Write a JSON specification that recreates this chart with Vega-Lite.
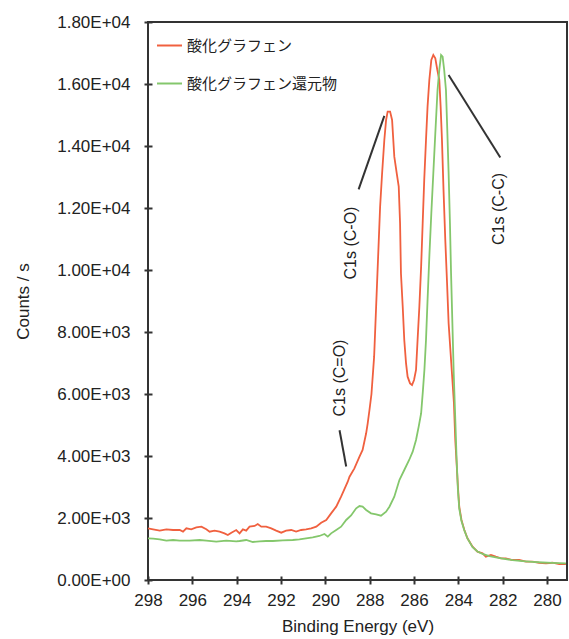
{
  "$schema": "https://vega.github.io/schema/vega-lite/v6.json",
  "width": 419,
  "height": 558,
  "autosize": {"type": "none"},
  "padding": {"left": 148, "top": 22, "right": 2, "bottom": 59},
  "background": "white",
  "config": {
    "view": {"stroke": "#333333", "strokeWidth": 2},
    "font": "Liberation Sans",
    "axis": {
      "domain": false, "offset": -4,
      "tickColor": "#333333", "tickWidth": 2, "tickSize": 8,
      "labelFont": "Liberation Sans", "labelFontSize": 17, "labelColor": "#222222",
      "titleFont": "Liberation Sans", "titleFontSize": 17, "titleFontWeight": "normal", "titleColor": "#222222",
      "grid": false
    }
  },
  "datasets": {
    "spectra": [
      {"be": 298.0, "counts": 1667, "series": "酸化グラフェン"},
      {"be": 297.77, "counts": 1635, "series": "酸化グラフェン"},
      {"be": 297.47, "counts": 1592, "series": "酸化グラフェン"},
      {"be": 297.17, "counts": 1635, "series": "酸化グラフェン"},
      {"be": 296.87, "counts": 1613, "series": "酸化グラフェン"},
      {"be": 296.57, "counts": 1613, "series": "酸化グラフェン"},
      {"be": 296.42, "counts": 1559, "series": "酸化グラフェン"},
      {"be": 296.27, "counts": 1667, "series": "酸化グラフェン"},
      {"be": 296.05, "counts": 1635, "series": "酸化グラフェン"},
      {"be": 295.82, "counts": 1700, "series": "酸化グラフェン"},
      {"be": 295.59, "counts": 1720, "series": "酸化グラフェン"},
      {"be": 295.37, "counts": 1635, "series": "酸化グラフェン"},
      {"be": 295.22, "counts": 1559, "series": "酸化グラフェン"},
      {"be": 295.0, "counts": 1592, "series": "酸化グラフェン"},
      {"be": 294.77, "counts": 1559, "series": "酸化グラフェン"},
      {"be": 294.55, "counts": 1505, "series": "酸化グラフェン"},
      {"be": 294.4, "counts": 1452, "series": "酸化グラフェン"},
      {"be": 294.24, "counts": 1527, "series": "酸化グラフェン"},
      {"be": 294.02, "counts": 1613, "series": "酸化グラフェン"},
      {"be": 293.87, "counts": 1505, "series": "酸化グラフェン"},
      {"be": 293.72, "counts": 1635, "series": "酸化グラフェン"},
      {"be": 293.57, "counts": 1592, "series": "酸化グラフェン"},
      {"be": 293.42, "counts": 1720, "series": "酸化グラフェン"},
      {"be": 293.19, "counts": 1742, "series": "酸化グラフェン"},
      {"be": 293.05, "counts": 1806, "series": "酸化グラフェン"},
      {"be": 292.89, "counts": 1720, "series": "酸化グラフェン"},
      {"be": 292.67, "counts": 1720, "series": "酸化グラフェン"},
      {"be": 292.44, "counts": 1667, "series": "酸化グラフェン"},
      {"be": 292.22, "counts": 1592, "series": "酸化グラフェン"},
      {"be": 291.99, "counts": 1527, "series": "酸化グラフェン"},
      {"be": 291.77, "counts": 1592, "series": "酸化グラフェン"},
      {"be": 291.54, "counts": 1613, "series": "酸化グラフェン"},
      {"be": 291.32, "counts": 1559, "series": "酸化グラフェン"},
      {"be": 291.09, "counts": 1613, "series": "酸化グラフェン"},
      {"be": 290.87, "counts": 1635, "series": "酸化グラフェン"},
      {"be": 290.64, "counts": 1667, "series": "酸化グラフェン"},
      {"be": 290.41, "counts": 1720, "series": "酸化グラフェン"},
      {"be": 290.19, "counts": 1849, "series": "酸化グラフェン"},
      {"be": 289.96, "counts": 1936, "series": "酸化グラフェン"},
      {"be": 289.74, "counts": 2150, "series": "酸化グラフェン"},
      {"be": 289.51, "counts": 2366, "series": "酸化グラフェン"},
      {"be": 289.29, "counts": 2689, "series": "酸化グラフェン"},
      {"be": 288.99, "counts": 3171, "series": "酸化グラフェン"},
      {"be": 288.91, "counts": 3333, "series": "酸化グラフェン"},
      {"be": 288.69, "counts": 3602, "series": "酸化グラフェン"},
      {"be": 288.46, "counts": 3978, "series": "酸化グラフェン"},
      {"be": 288.32, "counts": 4194, "series": "酸化グラフェン"},
      {"be": 288.16, "counts": 4732, "series": "酸化グラフェン"},
      {"be": 288.09, "counts": 5055, "series": "酸化グラフェン"},
      {"be": 288.01, "counts": 5484, "series": "酸化グラフェン"},
      {"be": 287.92, "counts": 6000, "series": "酸化グラフェン"},
      {"be": 287.8, "counts": 7204, "series": "酸化グラフェン"},
      {"be": 287.71, "counts": 8817, "series": "酸化グラフェン"},
      {"be": 287.62, "counts": 10430, "series": "酸化グラフェン"},
      {"be": 287.53, "counts": 12043, "series": "酸化グラフェン"},
      {"be": 287.44, "counts": 13120, "series": "酸化グラフェン"},
      {"be": 287.34, "counts": 14194, "series": "酸化グラフェン"},
      {"be": 287.26, "counts": 14840, "series": "酸化グラフェン"},
      {"be": 287.19, "counts": 15108, "series": "酸化グラフェン"},
      {"be": 287.08, "counts": 15108, "series": "酸化グラフェン"},
      {"be": 286.99, "counts": 14840, "series": "酸化グラフェン"},
      {"be": 286.89, "counts": 13656, "series": "酸化グラフェン"},
      {"be": 286.78, "counts": 13120, "series": "酸化グラフェン"},
      {"be": 286.69, "counts": 12688, "series": "酸化グラフェン"},
      {"be": 286.63, "counts": 11507, "series": "酸化グラフェン"},
      {"be": 286.59, "counts": 9895, "series": "酸化グラフェン"},
      {"be": 286.51, "counts": 8817, "series": "酸化グラフェン"},
      {"be": 286.44, "counts": 7743, "series": "酸化グラフェン"},
      {"be": 286.36, "counts": 6990, "series": "酸化グラフェン"},
      {"be": 286.29, "counts": 6559, "series": "酸化グラフェン"},
      {"be": 286.18, "counts": 6344, "series": "酸化グラフェン"},
      {"be": 286.09, "counts": 6291, "series": "酸化グラフェン"},
      {"be": 286.0, "counts": 6452, "series": "酸化グラフェン"},
      {"be": 285.91, "counts": 6775, "series": "酸化グラフェン"},
      {"be": 285.84, "counts": 7743, "series": "酸化グラフェン"},
      {"be": 285.76, "counts": 8817, "series": "酸化グラフェン"},
      {"be": 285.68, "counts": 10108, "series": "酸化グラフェン"},
      {"be": 285.61, "counts": 11507, "series": "酸化グラフェン"},
      {"be": 285.54, "counts": 12904, "series": "酸化グラフェン"},
      {"be": 285.46, "counts": 14194, "series": "酸化グラフェン"},
      {"be": 285.39, "counts": 15269, "series": "酸化グラフェン"},
      {"be": 285.31, "counts": 16130, "series": "酸化グラフェン"},
      {"be": 285.22, "counts": 16775, "series": "酸化グラフェン"},
      {"be": 285.13, "counts": 16937, "series": "酸化グラフェン"},
      {"be": 285.04, "counts": 16830, "series": "酸化グラフェン"},
      {"be": 284.95, "counts": 16453, "series": "酸化グラフェン"},
      {"be": 284.86, "counts": 16130, "series": "酸化グラフェン"},
      {"be": 284.8, "counts": 15269, "series": "酸化グラフェン"},
      {"be": 284.74, "counts": 14194, "series": "酸化グラフェン"},
      {"be": 284.67, "counts": 12581, "series": "酸化グラフェン"},
      {"be": 284.59, "counts": 10968, "series": "酸化グラフェン"},
      {"be": 284.51, "counts": 9571, "series": "酸化グラフェン"},
      {"be": 284.44, "counts": 8281, "series": "酸化グラフェン"},
      {"be": 284.32, "counts": 6990, "series": "酸化グラフェン"},
      {"be": 284.2, "counts": 5700, "series": "酸化グラフェン"},
      {"be": 284.14, "counts": 4516, "series": "酸化グラフェン"},
      {"be": 284.08, "counts": 3765, "series": "酸化グラフェン"},
      {"be": 284.02, "counts": 3010, "series": "酸化グラフェン"},
      {"be": 283.96, "counts": 2365, "series": "酸化グラフェン"},
      {"be": 283.86, "counts": 1936, "series": "酸化グラフェン"},
      {"be": 283.73, "counts": 1613, "series": "酸化グラフェン"},
      {"be": 283.59, "counts": 1345, "series": "酸化グラフェン"},
      {"be": 283.36, "counts": 1074, "series": "酸化グラフェン"},
      {"be": 283.14, "counts": 913, "series": "酸化グラフェン"},
      {"be": 282.91, "counts": 861, "series": "酸化グラフェン"},
      {"be": 282.76, "counts": 752, "series": "酸化グラフェン"},
      {"be": 282.53, "counts": 807, "series": "酸化グラフェン"},
      {"be": 282.31, "counts": 752, "series": "酸化グラフェン"},
      {"be": 282.08, "counts": 700, "series": "酸化グラフェン"},
      {"be": 281.86, "counts": 700, "series": "酸化グラフェン"},
      {"be": 281.56, "counts": 645, "series": "酸化グラフェン"},
      {"be": 281.26, "counts": 645, "series": "酸化グラフェン"},
      {"be": 280.95, "counts": 590, "series": "酸化グラフェン"},
      {"be": 280.66, "counts": 590, "series": "酸化グラフェン"},
      {"be": 280.36, "counts": 557, "series": "酸化グラフェン"},
      {"be": 280.05, "counts": 538, "series": "酸化グラフェン"},
      {"be": 279.76, "counts": 557, "series": "酸化グラフェン"},
      {"be": 279.45, "counts": 516, "series": "酸化グラフェン"},
      {"be": 279.15, "counts": 516, "series": "酸化グラフェン"},

      {"be": 298.0, "counts": 1345, "series": "酸化グラフェン還元物"},
      {"be": 297.77, "counts": 1333, "series": "酸化グラフェン還元物"},
      {"be": 297.47, "counts": 1312, "series": "酸化グラフェン還元物"},
      {"be": 297.17, "counts": 1269, "series": "酸化グラフェン還元物"},
      {"be": 296.87, "counts": 1290, "series": "酸化グラフェン還元物"},
      {"be": 296.57, "counts": 1269, "series": "酸化グラフェン還元物"},
      {"be": 296.12, "counts": 1269, "series": "酸化グラフェン還元物"},
      {"be": 295.67, "counts": 1290, "series": "酸化グラフェン還元物"},
      {"be": 295.37, "counts": 1269, "series": "酸化グラフェン還元物"},
      {"be": 294.92, "counts": 1237, "series": "酸化グラフェン還元物"},
      {"be": 294.47, "counts": 1269, "series": "酸化グラフェン還元物"},
      {"be": 294.02, "counts": 1247, "series": "酸化グラフェン還元物"},
      {"be": 293.87, "counts": 1258, "series": "酸化グラフェン還元物"},
      {"be": 293.57, "counts": 1290, "series": "酸化グラフェン還元物"},
      {"be": 293.27, "counts": 1226, "series": "酸化グラフェン還元物"},
      {"be": 292.97, "counts": 1247, "series": "酸化グラフェン還元物"},
      {"be": 292.67, "counts": 1258, "series": "酸化グラフェン還元物"},
      {"be": 292.37, "counts": 1258, "series": "酸化グラフェン還元物"},
      {"be": 291.92, "counts": 1280, "series": "酸化グラフェン還元物"},
      {"be": 291.47, "counts": 1290, "series": "酸化グラフェン還元物"},
      {"be": 291.17, "counts": 1312, "series": "酸化グラフェン還元物"},
      {"be": 290.87, "counts": 1345, "series": "酸化グラフェン還元物"},
      {"be": 290.57, "counts": 1377, "series": "酸化グラフェン還元物"},
      {"be": 290.27, "counts": 1420, "series": "酸化グラフェン還元物"},
      {"be": 290.04, "counts": 1484, "series": "酸化グラフェン還元物"},
      {"be": 289.89, "counts": 1398, "series": "酸化グラフェン還元物"},
      {"be": 289.74, "counts": 1505, "series": "酸化グラフェン還元物"},
      {"be": 289.51, "counts": 1613, "series": "酸化グラフェン還元物"},
      {"be": 289.29, "counts": 1720, "series": "酸化グラフェン還元物"},
      {"be": 289.06, "counts": 1936, "series": "酸化グラフェン還元物"},
      {"be": 288.84, "counts": 2080, "series": "酸化グラフェン還元物"},
      {"be": 288.61, "counts": 2312, "series": "酸化グラフェン還元物"},
      {"be": 288.46, "counts": 2387, "series": "酸化グラフェン還元物"},
      {"be": 288.32, "counts": 2365, "series": "酸化グラフェン還元物"},
      {"be": 288.16, "counts": 2258, "series": "酸化グラフェン還元物"},
      {"be": 287.94, "counts": 2150, "series": "酸化グラフェン還元物"},
      {"be": 287.71, "counts": 2118, "series": "酸化グラフェン還元物"},
      {"be": 287.49, "counts": 2075, "series": "酸化グラフェン還元物"},
      {"be": 287.26, "counts": 2204, "series": "酸化グラフェン還元物"},
      {"be": 287.11, "counts": 2365, "series": "酸化グラフェン還元物"},
      {"be": 286.89, "counts": 2689, "series": "酸化グラフェン還元物"},
      {"be": 286.66, "counts": 3226, "series": "酸化グラフェン還元物"},
      {"be": 286.44, "counts": 3549, "series": "酸化グラフェン還元物"},
      {"be": 286.22, "counts": 3871, "series": "酸化グラフェン還元物"},
      {"be": 286.06, "counts": 4140, "series": "酸化グラフェン還元物"},
      {"be": 285.91, "counts": 4516, "series": "酸化グラフェン還元物"},
      {"be": 285.79, "counts": 4946, "series": "酸化グラフェン還元物"},
      {"be": 285.68, "counts": 5378, "series": "酸化グラフェン還元物"},
      {"be": 285.6, "counts": 6100, "series": "酸化グラフェン還元物"},
      {"be": 285.53, "counts": 6800, "series": "酸化グラフェン還元物"},
      {"be": 285.46, "counts": 7743, "series": "酸化グラフェン還元物"},
      {"be": 285.39, "counts": 9033, "series": "酸化グラフェン還元物"},
      {"be": 285.31, "counts": 10430, "series": "酸化グラフェン還元物"},
      {"be": 285.22, "counts": 11830, "series": "酸化グラフェン還元物"},
      {"be": 285.13, "counts": 13120, "series": "酸化グラフェン還元物"},
      {"be": 285.04, "counts": 14410, "series": "酸化グラフェン還元物"},
      {"be": 284.94, "counts": 15807, "series": "酸化グラフェン還元物"},
      {"be": 284.86, "counts": 16453, "series": "酸化グラフェン還元物"},
      {"be": 284.78, "counts": 16937, "series": "酸化グラフェン還元物"},
      {"be": 284.71, "counts": 16882, "series": "酸化グラフェン還元物"},
      {"be": 284.64, "counts": 16453, "series": "酸化グラフェン還元物"},
      {"be": 284.56, "counts": 15807, "series": "酸化グラフェン還元物"},
      {"be": 284.5, "counts": 14517, "series": "酸化グラフェン還元物"},
      {"be": 284.44, "counts": 13120, "series": "酸化グラフェン還元物"},
      {"be": 284.38, "counts": 11507, "series": "酸化グラフェン還元物"},
      {"be": 284.33, "counts": 9895, "series": "酸化グラフェン還元物"},
      {"be": 284.27, "counts": 8281, "series": "酸化グラフェン還元物"},
      {"be": 284.21, "counts": 6668, "series": "酸化グラフェン還元物"},
      {"be": 284.14, "counts": 5200, "series": "酸化グラフェン還元物"},
      {"be": 284.08, "counts": 3900, "series": "酸化グラフェン還元物"},
      {"be": 284.02, "counts": 2900, "series": "酸化グラフェン還元物"},
      {"be": 283.96, "counts": 2300, "series": "酸化グラフェン還元物"},
      {"be": 283.86, "counts": 1900, "series": "酸化グラフェン還元物"},
      {"be": 283.73, "counts": 1600, "series": "酸化グラフェン還元物"},
      {"be": 283.59, "counts": 1340, "series": "酸化グラフェン還元物"},
      {"be": 283.36, "counts": 1060, "series": "酸化グラフェン還元物"},
      {"be": 283.14, "counts": 920, "series": "酸化グラフェン還元物"},
      {"be": 282.91, "counts": 840, "series": "酸化グラフェン還元物"},
      {"be": 282.6, "counts": 770, "series": "酸化グラフェン還元物"},
      {"be": 282.31, "counts": 730, "series": "酸化グラフェン還元物"},
      {"be": 282.0, "counts": 690, "series": "酸化グラフェン還元物"},
      {"be": 281.56, "counts": 640, "series": "酸化グラフェン還元物"},
      {"be": 281.1, "counts": 610, "series": "酸化グラフェン還元物"},
      {"be": 280.66, "counts": 585, "series": "酸化グラフェン還元物"},
      {"be": 280.2, "counts": 565, "series": "酸化グラフェン還元物"},
      {"be": 279.76, "counts": 550, "series": "酸化グラフェン還元物"},
      {"be": 279.15, "counts": 535, "series": "酸化グラフェン還元物"}
    ],
    "leaders": [
      {"x1": 288.5, "y1": 12600, "x2": 287.34, "y2": 14970},
      {"x1": 284.44, "y1": 16290, "x2": 282.11, "y2": 13630},
      {"x1": 289.36, "y1": 4830, "x2": 289.06, "y2": 3660}
    ],
    "labels": [
      {"lx": 288.84, "ly": 10870, "label": "C1s (C-O)"},
      {"lx": 282.16, "ly": 11970, "label": "C1s (C-C)"},
      {"lx": 289.36, "ly": 6516, "label": "C1s (C=O)"}
    ]
  },
  "layer": [
    {
      "data": {"name": "spectra"},
      "mark": {"type": "line", "strokeWidth": 1.8, "interpolate": "linear"},
      "encoding": {
        "x": {
          "field": "be", "type": "quantitative",
          "scale": {"domain": [279.1, 298], "reverse": true, "nice": false, "zero": false},
          "axis": {
            "title": "Binding Energy (eV)",
            "values": [280, 281, 282, 283, 284, 285, 286, 287, 288, 289, 290, 291, 292, 293, 294, 295, 296, 297, 298],
            "labelExpr": "datum.value % 2 === 0 ? datum.label : ''",
            "labelDx": -7, "labelPadding": 8, "titlePadding": 10, "labelFlush": false, "labelOverlap": false
          }
        },
        "y": {
          "field": "counts", "type": "quantitative",
          "scale": {"domain": [0, 18000], "nice": false},
          "axis": {
            "title": "Counts / s",
            "values": [0, 1000, 2000, 3000, 4000, 5000, 6000, 7000, 8000, 9000, 10000, 11000, 12000, 13000, 14000, 15000, 16000, 17000, 18000],
            "labelExpr": "datum.value % 2000 === 0 ? replace(format(datum.value, '.2e'), 'e+', 'E+0') : ''",
            "labelPadding": 14, "titlePadding": 24, "labelOverlap": false, "labelFlush": false
          }
        },
        "color": {
          "field": "series", "type": "nominal",
          "scale": {"domain": ["酸化グラフェン", "酸化グラフェン還元物"], "range": ["#f0603f", "#84c76c"]},
          "legend": {
            "title": null, "orient": "none", "legendX": 8, "legendY": 10,
            "symbolType": "stroke", "symbolSize": 625, "symbolStrokeWidth": 2,
            "labelFont": "Noto Sans CJK JP", "labelFontSize": 15, "labelColor": "#222222",
            "labelOffset": 4, "rowPadding": 16, "padding": 0
          }
        }
      }
    },
    {
      "data": {"name": "leaders"},
      "mark": {"type": "rule", "color": "#333333", "strokeWidth": 2},
      "encoding": {
        "x": {"field": "x1", "type": "quantitative", "scale": {"domain": [279.1, 298], "reverse": true, "nice": false, "zero": false}},
        "x2": {"field": "x2"},
        "y": {"field": "y1", "type": "quantitative", "scale": {"domain": [0, 18000], "nice": false}},
        "y2": {"field": "y2"}
      }
    },
    {
      "data": {"name": "labels"},
      "mark": {"type": "text", "angle": 270, "align": "center", "baseline": "middle", "font": "Liberation Sans", "fontSize": 16, "color": "#222222"},
      "encoding": {
        "x": {"field": "lx", "type": "quantitative", "scale": {"domain": [279.1, 298], "reverse": true, "nice": false, "zero": false}},
        "y": {"field": "ly", "type": "quantitative", "scale": {"domain": [0, 18000], "nice": false}},
        "text": {"field": "label"}
      }
    }
  ]
}
